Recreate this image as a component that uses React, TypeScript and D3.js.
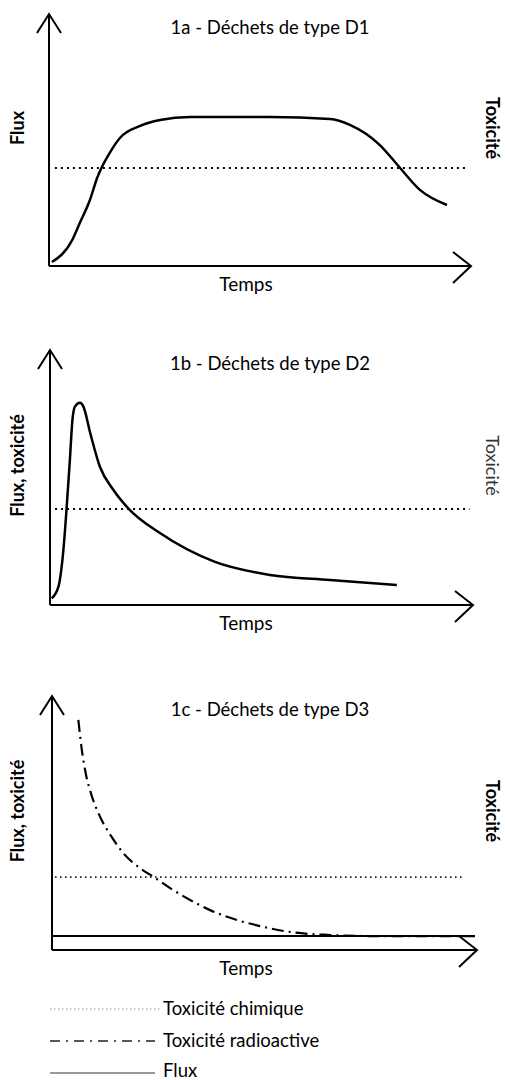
import * as d3 from 'd3';

// Data in arbitrary units: time 0..100, value 0..100
const fluxD1: [number, number][] = [
  [0.7, 1.6], [5.5, 10.3], [7.3, 17.1], [9.7, 26.2], [11.4, 34.9], [14.5, 45.2],
  [16.8, 50.8], [21.6, 55.6], [26.3, 57.9], [33.4, 59.1], [52.4, 59.1], [66.6, 58.3],
  [71.3, 56.0], [78.4, 48.0], [83.2, 38.9], [87.9, 30.2], [94.3, 24.2],
];
const toxD1 = 38.9;

const fluxD2: [number, number][] = [
  [0.4, 2.6], [2.0, 7.2], [3.1, 20.4], [3.9, 37.3], [4.7, 56.9], [5.3, 72.5],
  [5.9, 77.8], [7.1, 79.3], [7.9, 77.8], [9.5, 67.5], [11.8, 54.2], [15.0, 45.1],
  [18.5, 37.9], [26.0, 28.2], [39.0, 16.9], [52.0, 11.8], [66.2, 9.8], [82.0, 7.8],
];
const toxD2 = 37.6;

const radioD3: [number, number][] = [
  [6.2, 90.6], [7.0, 79.0], [8.0, 69.0], [9.3, 61.0], [11.3, 52.5], [14.0, 44.6],
  [16.8, 38.1], [20.7, 32.2], [23.8, 28.9], [28.5, 23.6], [32.5, 19.7], [37.2, 15.7],
  [43.5, 11.8], [49.0, 9.4], [56.0, 7.1], [65.4, 5.9], [74.8, 5.5], [99.5, 5.5],
];
const fluxD3 = 5.5;
const chimD3 = 28.7;

const legendLabels = ['Toxicité chimique', 'Toxicité radioactive', 'Flux'];

const font = 'Lato, "Open Sans", sans-serif';

type Panel = {
  title: string;
  yLabel: string;
  rightLabel: string;
  rightBold: boolean;
  x0: number; x1: number; yBottom: number; yTop: number; axisEnd: number;
};

const panels: Panel[] = [
  { title: '1a - Déchets de type D1', yLabel: 'Flux', rightLabel: 'Toxicité', rightBold: true,
    x0: 49, x1: 471, yBottom: 266, yTop: 14, axisEnd: 471 },
  { title: '1b - Déchets de type D2', yLabel: 'Flux, toxicité', rightLabel: 'Toxicité', rightBold: false,
    x0: 50, x1: 473, yBottom: 605, yTop: 350, axisEnd: 473 },
  { title: '1c - Déchets de type D3', yLabel: 'Flux, toxicité', rightLabel: 'Toxicité', rightBold: true,
    x0: 52, x1: 477, yBottom: 950, yTop: 696, axisEnd: 477 },
];

function Frame({ p }: { p: Panel }) {
  const midY = (p.yBottom + p.yTop) / 2 - 12;
  return (
    <g fill="none" stroke="#000">
      <line x1={p.x0} y1={p.yBottom} x2={p.x0} y2={p.yTop} strokeWidth={2} />
      <line x1={p.x0} y1={p.yBottom} x2={p.axisEnd} y2={p.yBottom} strokeWidth={2} />
      <polyline points={`${p.x0 - 12},${p.yTop + 19} ${p.x0},${p.yTop} ${p.x0 + 12},${p.yTop + 19}`} strokeWidth={2} />
      <polyline points={`${p.axisEnd - 18},${p.yBottom - 14} ${p.axisEnd},${p.yBottom} ${p.axisEnd - 18},${p.yBottom + 17}`} strokeWidth={2} />
      <g stroke="none" fill="#000" fontFamily={font}>
        <text x={270} y={p.yTop + 20} textAnchor="middle" fontSize={18.5}>{p.title}</text>
        <text x={246} y={p.yBottom + 25} textAnchor="middle" fontSize={19}>Temps</text>
        <text transform={`translate(24,${midY}) rotate(-90)`} textAnchor="middle" fontSize={18} fontWeight="bold">{p.yLabel}</text>
        <text transform={`translate(486,${midY}) rotate(90)`} textAnchor="middle" fontSize={18}
          fontWeight={p.rightBold ? 'bold' : 'normal'} fill={p.rightBold ? '#000' : '#333'}>{p.rightLabel}</text>
      </g>
    </g>
  );
}

function scales(p: Panel) {
  const x = d3.scaleLinear().domain([0, 100]).range([p.x0, p.x1]);
  const y = d3.scaleLinear().domain([0, 100]).range([p.yBottom, p.yTop]);
  return { x, y };
}

export default function App() {
  const [pa, pb, pc] = panels;
  const sa = scales(pa), sb = scales(pb), sc = scales(pc);
  const lineA = d3.line<[number, number]>().x(d => sa.x(d[0])).y(d => sa.y(d[1])).curve(d3.curveMonotoneX);
  const lineB = d3.line<[number, number]>().x(d => sb.x(d[0])).y(d => sb.y(d[1])).curve(d3.curveMonotoneX);
  const lineC = d3.line<[number, number]>().x(d => sc.x(d[0])).y(d => sc.y(d[1])).curve(d3.curveMonotoneX);

  const dotted = '2 4';
  const dashDot = '12 5 2 5';

  return (
    <svg width={505} height={1080} style={{ position: 'absolute', left: 0, top: 0, background: '#fff' }}>
      {panels.map(p => <Frame key={p.title} p={p} />)}

      {/* 1a */}
      <line x1={sa.x(1.4)} x2={sa.x(99.5)} y1={sa.y(toxD1)} y2={sa.y(toxD1)} stroke="#000" strokeWidth={2} strokeDasharray={dotted} />
      <path d={lineA(fluxD1) || ''} fill="none" stroke="#000" strokeWidth={2.5} />

      {/* 1b */}
      <line x1={sb.x(1.2)} x2={sb.x(99.2)} y1={sb.y(toxD2)} y2={sb.y(toxD2)} stroke="#000" strokeWidth={2} strokeDasharray={dotted} />
      <path d={lineB(fluxD2) || ''} fill="none" stroke="#000" strokeWidth={2.5} />

      {/* 1c */}
      <line x1={sc.x(0.7)} x2={sc.x(96.7)} y1={sc.y(chimD3)} y2={sc.y(chimD3)} stroke="#222" strokeWidth={1.6} strokeDasharray="1.6 3.4" />
      <line x1={sc.x(0)} x2={sc.x(99.5)} y1={sc.y(fluxD3)} y2={sc.y(fluxD3)} stroke="#000" strokeWidth={2} />
      <path d={lineC(radioD3) || ''} fill="none" stroke="#000" strokeWidth={2.2} strokeDasharray={dashDot} />

      {/* legend */}
      <g fontFamily={font} fontSize={18.5}>
        <line x1={50} x2={160} y1={1009} y2={1009} stroke="#bbb" strokeWidth={1.5} strokeDasharray="1.5 2.5" />
        <text x={163} y={1015}>{legendLabels[0]}</text>
        <line x1={50} x2={155} y1={1041} y2={1041} stroke="#222" strokeWidth={1.5} strokeDasharray="10 6 2 6" />
        <text x={163} y={1047}>{legendLabels[1]}</text>
        <line x1={50} x2={155} y1={1073} y2={1073} stroke="#777" strokeWidth={1.5} />
        <text x={163} y={1077}>{legendLabels[2]}</text>
      </g>
    </svg>
  );
}
